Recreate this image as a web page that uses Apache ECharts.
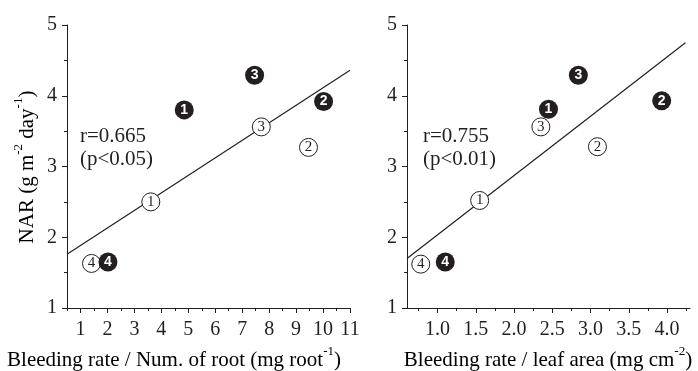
<!DOCTYPE html>
<html>
<head>
<meta charset="utf-8">
<script src="https://cdn.jsdelivr.net/npm/echarts@6/dist/echarts.min.js"></script>
<style>html,body{margin:0;padding:0;background:#fff;}#c{width:698px;height:371px;}</style>
</head>
<body>
<div id="c"></div>
<script>
// ---- data ----
const pointLabels = ['1', '2', '3', '4'];
const leftOpen = [[3.61, 2.50], [9.46, 3.27], [7.71, 3.56], [1.41, 1.63]];
const leftFilled = [[4.85, 3.80], [10.02, 3.92], [7.46, 4.29], [2.02, 1.65]];
const rightOpen = [[1.55, 2.52], [3.09, 3.28], [2.35, 3.56], [0.78, 1.62]];
const rightFilled = [[2.45, 3.81], [3.93, 3.93], [2.84, 4.29], [1.10, 1.65]];
const leftFit = [[0.5, 1.76], [11, 4.36]];
const rightFit = [[0.6, 1.70], [4.24, 4.75]];
const leftXMajor = [1, 2, 3, 4, 5, 6, 7, 8, 9, 10, 11];
const leftXMinor = [0.5, 1.5, 2.5, 3.5, 4.5, 5.5, 6.5, 7.5, 8.5, 9.5, 10.5];
const rightXMajor = [1.0, 1.5, 2.0, 2.5, 3.0, 3.5, 4.0];
const rightXMinor = [0.75, 1.25, 1.75, 2.25, 2.75, 3.25, 3.75, 4.25];
const leftStats = ['r=0.665', '(p<0.05)'];
const rightStats = ['r=0.755', '(p<0.01)'];

const INK = '#231f20';
const SERIF = 'Liberation Serif';

function withLabels(arr) { return arr.map((p, i) => [p[0], p[1], pointLabels[i]]); }

function xMinorAxis(gi, min, max, ticks) {
  return {
    type: 'value', gridIndex: gi, position: 'bottom', min: min, max: max,
    axisLine: { show: true, onZero: false, lineStyle: { color: INK, width: 1 } },
    axisTick: { show: true, inside: false, length: 3, customValues: ticks, lineStyle: { color: INK } },
    axisLabel: { show: false },
    splitLine: { show: false }
  };
}
function xMajorAxis(gi, min, max, ticks, fmt) {
  return {
    type: 'value', gridIndex: gi, position: 'bottom', min: min, max: max,
    axisLine: { show: false, onZero: false },
    axisTick: { show: true, inside: false, length: 5, customValues: ticks, lineStyle: { color: INK } },
    axisLabel: { show: true, customValues: ticks, margin: 12, color: INK, fontFamily: SERIF, fontSize: 20, formatter: fmt },
    splitLine: { show: false }
  };
}
function yAxis(gi) {
  return {
    type: 'value', gridIndex: gi, min: 1, max: 5, interval: 1,
    axisLine: { show: true, onZero: false, lineStyle: { color: INK, width: 1 } },
    axisTick: { show: true, inside: false, length: 5, lineStyle: { color: INK } },
    minorTick: { show: true, splitNumber: 2, length: 3, lineStyle: { color: INK } },
    axisLabel: { show: true, margin: 10, color: INK, fontFamily: SERIF, fontSize: 20 },
    splitLine: { show: false }, minorSplitLine: { show: false }
  };
}
function openSeries(xi, yi, data) {
  return {
    type: 'scatter', xAxisIndex: xi, yAxisIndex: yi, data: withLabels(data), symbol: 'circle', symbolSize: 18, z: 3,
    itemStyle: { color: '#fff', borderColor: INK, borderWidth: 1, opacity: 1 },
    label: { show: true, position: 'inside', formatter: p => p.data[2], color: INK, fontFamily: SERIF, fontSize: 15 },
    emphasis: { disabled: true }
  };
}
function filledSeries(xi, yi, data) {
  return {
    type: 'scatter', xAxisIndex: xi, yAxisIndex: yi, data: withLabels(data), symbol: 'circle', symbolSize: 19, z: 3,
    itemStyle: { color: INK, opacity: 1 },
    label: { show: true, position: 'inside', formatter: p => p.data[2], color: '#fff', fontFamily: 'Liberation Sans', fontWeight: 'bold', fontSize: 14 },
    emphasis: { disabled: true }
  };
}
function fitSeries(xi, yi, data) {
  return {
    type: 'line', xAxisIndex: xi, yAxisIndex: yi, data: data, symbol: 'none', z: 2,
    lineStyle: { color: INK, width: 1.2 }, silent: true
  };
}

const richT = {
  a: { fontFamily: SERIF, fontSize: 21, color: INK, lineHeight: 30 },
  s: { fontFamily: SERIF, fontSize: 13, color: INK, lineHeight: 13, verticalAlign: 'top' }
};

const chart = echarts.init(document.getElementById('c'), null, { renderer: 'canvas' });
chart.setOption({
  animation: false,
  backgroundColor: '#fff',
  grid: [
    { left: 67, top: 25, width: 283, height: 283 },
    { left: 407, top: 25, width: 283, height: 283 }
  ],
  xAxis: [
    xMinorAxis(0, 0.5, 11, leftXMinor),
    xMajorAxis(0, 0.5, 11, leftXMajor, v => String(v)),
    xMinorAxis(1, 0.6, 4.3, rightXMinor),
    xMajorAxis(1, 0.6, 4.3, rightXMajor, v => v.toFixed(1))
  ],
  yAxis: [yAxis(0), yAxis(1)],
  series: [
    fitSeries(0, 0, leftFit),
    openSeries(0, 0, leftOpen),
    filledSeries(0, 0, leftFilled),
    fitSeries(2, 1, rightFit),
    openSeries(2, 1, rightOpen),
    filledSeries(2, 1, rightFilled)
  ],
  graphic: [
    { type: 'text', x: 174, y: 360, silent: true,
      style: { text: '{a|Bleeding rate / Num. of root (mg root}{s|-1}{a|)}', rich: richT, align: 'center', verticalAlign: 'middle' } },
    { type: 'text', x: 548, y: 360, silent: true,
      style: { text: '{a|Bleeding rate / leaf area (mg cm}{s|-2}{a|)}', rich: richT, align: 'center', verticalAlign: 'middle' } },
    { type: 'text', x: 27, y: 167, rotation: Math.PI / 2, silent: true,
      style: { text: '{a|NAR (g m}{s|-2}{a| day}{s|-1}{a|)}', rich: richT, align: 'center', verticalAlign: 'middle' } },
    { type: 'text', x: 80, y: 148, silent: true,
      style: { text: leftStats.join('\n'), fontFamily: SERIF, fontSize: 21, lineHeight: 23, fill: INK, align: 'left', verticalAlign: 'middle' } },
    { type: 'text', x: 423, y: 148, silent: true,
      style: { text: rightStats.join('\n'), fontFamily: SERIF, fontSize: 21, lineHeight: 23, fill: INK, align: 'left', verticalAlign: 'middle' } }
  ]
});
</script>
</body>
</html>
